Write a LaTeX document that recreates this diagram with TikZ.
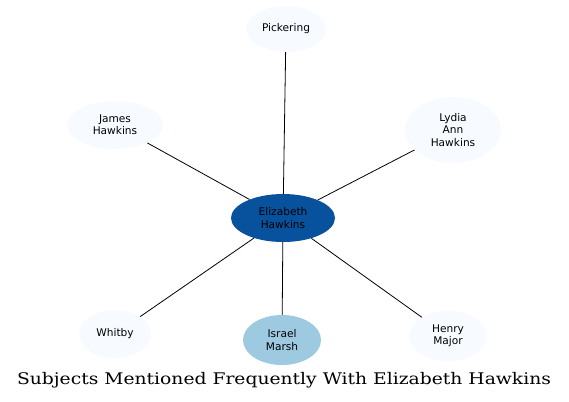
\documentclass[tikz,border=0pt]{standalone}
\usepackage{fontspec}
\setmainfont{DejaVu Serif}
\newfontfamily\titlefont[FakeStretch=1.17]{DejaVu Serif}
\newfontfamily\nodefont{DejaVu Sans}
\usetikzlibrary{shapes.geometric}
\definecolor{pale}{HTML}{F7FBFF}
\definecolor{deep}{HTML}{08519C}
\definecolor{mid}{HTML}{9ECAE1}
\begin{document}
\begin{tikzpicture}[x=1bp,y=-1bp,
  ent/.style={ellipse,draw=none,fill=pale,inner sep=0pt,align=center,
    font=\nodefont\fontsize{10.6bp}{12.2bp}\selectfont,text=black},
  link/.style={draw=black,line width=0.8bp}]
\useasboundingbox (0,0) rectangle (569,401);
\node[ent,minimum width=80bp,minimum height=46bp] (pick) at (286,29) {Pickering};
\node[ent,minimum width=96bp,minimum height=48bp] (james) at (115,125) {James\\Hawkins};
\node[ent,minimum width=96bp,minimum height=66bp] (lydia) at (453,130) {Lydia\\Ann\\Hawkins};
\node[ent,fill=deep,minimum width=104bp,minimum height=48bp] (eliz) at (283,218) {Elizabeth\\Hawkins};
\node[ent,minimum width=72bp,minimum height=48bp] (whitby) at (115,334) {Whitby};
\node[ent,fill=mid,minimum width=78bp,minimum height=50bp] (israel) at (282,340) {Israel\\Marsh};
\node[ent,minimum width=78bp,minimum height=50bp] (henry) at (448,336) {Henry\\Major};
\node[font=\titlefont\fontsize{16bp}{19bp}\selectfont] (title) at (284,380) {Subjects Mentioned Frequently With Elizabeth Hawkins};
\draw[link] (eliz) -- (pick);
\draw[link] (eliz) -- (james);
\draw[link] (eliz) -- (lydia);
\draw[link] (eliz) -- (whitby);
\draw[link] (eliz) -- (israel);
\draw[link] (eliz) -- (henry);
\end{tikzpicture}
\end{document}
